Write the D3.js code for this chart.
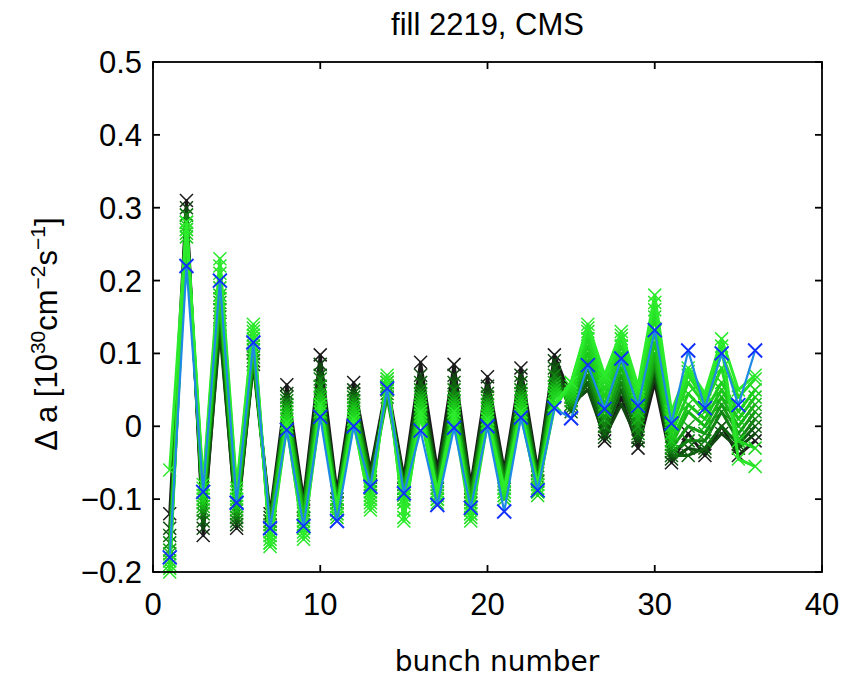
<!DOCTYPE html>
<html>
<head>
<meta charset="utf-8">
<script src="https://cdn.jsdelivr.net/npm/d3@7/dist/d3.min.js"></script>
<style>
  body { margin: 0; background: #fff; }
  svg text { font-family: "Liberation Sans", Arial, sans-serif; }
</style>
</head>
<body>
<svg id="chart" width="843" height="681"></svg>
<script>
// Bunch-by-bunch luminosity offset, fill 2219 (CMS)
const bunches = [1,2,3,4,5,6,7,8,9,10,11,12,13,14,15,16,17,18,19,20,21,22,23,24,25,26,27,28,29,30,31,32,33,34,35,36];
const xTicks = [0, 10, 20, 30, 40];
const yTicks = [-0.2, -0.1, 0, 0.1, 0.2, 0.3, 0.4, 0.5];
const yTickLabels = ["\u22120.2", "\u22120.1", "0", "0.1", "0.2", "0.3", "0.4", "0.5"];

// individual scans, ordered from first (black) to last (bright green)
const scan01 = [-0.12,0.31,-0.15,0.14,-0.14,0.09,-0.12,0.057,-0.10,0.098,-0.09,0.06,-0.06,0.06,-0.07,0.088,-0.06,0.085,-0.08,0.068,-0.06,0.08,-0.06,0.098,0.04,0.06,-0.02,0.04,-0.03,0.06,-0.05,-0.01,-0.04,0.0,-0.04,-0.02];
const scan02 = [-0.14,0.30,-0.14,0.13,-0.135,0.085,-0.13,0.045,-0.11,0.085,-0.10,0.05,-0.065,0.055,-0.075,0.07,-0.07,0.07,-0.085,0.055,-0.065,0.07,-0.065,0.09,0.03,0.05,-0.015,0.03,-0.02,0.07,-0.045,-0.03,-0.035,-0.01,-0.03,-0.01];
const scan03 = [-0.15,0.29,-0.13,0.15,-0.13,0.09,-0.125,0.04,-0.115,0.07,-0.105,0.045,-0.07,0.05,-0.08,0.06,-0.075,0.06,-0.09,0.045,-0.07,0.06,-0.07,0.08,0.02,0.06,-0.01,0.05,-0.015,0.08,-0.04,-0.04,-0.03,0.0,-0.025,0.0];
const scan04 = [-0.16,0.29,-0.12,0.16,-0.125,0.095,-0.13,0.035,-0.11,0.065,-0.10,0.04,-0.075,0.045,-0.085,0.05,-0.08,0.05,-0.095,0.04,-0.075,0.05,-0.075,0.07,0.025,0.07,0.0,0.06,-0.01,0.085,-0.035,-0.02,-0.02,0.02,-0.02,0.01];
const scan05 = [-0.17,0.28,-0.115,0.17,-0.12,0.10,-0.135,0.03,-0.12,0.055,-0.105,0.035,-0.08,0.04,-0.085,0.045,-0.085,0.04,-0.10,0.035,-0.08,0.045,-0.075,0.06,0.03,0.08,0.01,0.07,0.0,0.09,-0.03,0.0,-0.01,0.03,-0.01,0.02];
const scan06 = [-0.175,0.27,-0.11,0.175,-0.115,0.105,-0.14,0.025,-0.125,0.045,-0.11,0.03,-0.085,0.05,-0.09,0.04,-0.09,0.035,-0.105,0.03,-0.085,0.04,-0.08,0.055,0.035,0.09,0.02,0.08,0.01,0.10,-0.025,0.02,0.0,0.04,0.0,0.03];
const scan07 = [-0.18,0.265,-0.105,0.18,-0.11,0.11,-0.145,0.02,-0.13,0.04,-0.115,0.025,-0.09,0.055,-0.095,0.035,-0.095,0.03,-0.11,0.025,-0.09,0.035,-0.085,0.05,0.04,0.10,0.03,0.09,0.02,0.115,-0.02,0.03,0.01,0.05,0.01,0.04];
const scan08 = [-0.185,0.26,-0.10,0.19,-0.105,0.12,-0.15,0.015,-0.135,0.035,-0.12,0.02,-0.095,0.06,-0.10,0.03,-0.10,0.025,-0.115,0.02,-0.095,0.03,-0.09,0.045,0.045,0.11,0.04,0.10,0.03,0.13,-0.01,0.045,0.02,0.06,0.02,0.05];
const scan09 = [-0.19,0.275,-0.095,0.20,-0.10,0.125,-0.155,0.01,-0.14,0.03,-0.125,0.015,-0.10,0.065,-0.105,0.025,-0.105,0.02,-0.12,0.015,-0.10,0.025,-0.095,0.04,0.05,0.12,0.05,0.11,0.04,0.15,0.0,0.06,0.03,0.08,-0.02,-0.03];
const scan10 = [-0.195,0.28,-0.09,0.21,-0.095,0.13,-0.16,0.005,-0.145,0.025,-0.12,0.01,-0.105,0.06,-0.115,0.02,-0.10,0.015,-0.125,0.01,-0.095,0.02,-0.09,0.03,0.055,0.13,0.06,0.12,0.045,0.16,0.01,0.07,0.035,0.10,0.04,0.065];
const scan11 = [-0.20,0.27,-0.085,0.22,-0.09,0.135,-0.165,0.0,-0.15,0.02,-0.115,0.005,-0.11,0.065,-0.125,0.015,-0.095,0.01,-0.13,0.005,-0.09,0.015,-0.085,0.025,0.06,0.135,0.065,0.125,0.05,0.17,0.015,0.075,0.04,0.11,-0.045,-0.055];
const scan12 = [-0.06,0.28,-0.08,0.23,-0.085,0.14,-0.16,0.005,-0.155,0.03,-0.11,0.01,-0.115,0.07,-0.13,0.02,-0.09,0.02,-0.12,0.01,-0.085,0.02,-0.08,0.03,0.06,0.14,0.07,0.13,0.055,0.18,0.02,0.08,0.045,0.12,0.05,0.07];
// average over scans
const meanScan = [-0.18,0.22,-0.09,0.20,-0.105,0.115,-0.14,-0.005,-0.137,0.013,-0.13,0.0,-0.083,0.052,-0.092,-0.006,-0.108,-0.002,-0.112,0.0,-0.117,0.012,-0.088,0.025,0.011,0.084,0.024,0.093,0.028,0.132,0.004,0.104,0.025,0.10,0.029,0.104];

const scans = [scan01, scan02, scan03, scan04, scan05, scan06, scan07, scan08, scan09, scan10, scan11, scan12];

const margin = { left: 153, right: 21, top: 62, bottom: 109 };
const W = 843, H = 681;
const svg = d3.select("#chart");

const x = d3.scaleLinear().domain([0, 40]).range([margin.left, W - margin.right]);
const y = d3.scaleLinear().domain([-0.2, 0.5]).range([H - margin.bottom, margin.top]);

// scan colour runs black -> dark green -> bright green
const shade = d3.piecewise(d3.interpolateRgb, ["#1a1a1a", "#0e5a0e", "#19c419", "#2ceb2c"]);
const line = d3.line().x((d, i) => x(bunches[i])).y(d => y(d));
const crossPath = r => `M${-r},${-r}L${r},${r}M${-r},${r}L${r},${-r}`;

function drawSeries(values, lineColor, markColor, lw, r, mw) {
  const g = svg.append("g");
  g.append("path").datum(values)
    .attr("d", line).attr("fill", "none")
    .attr("stroke", lineColor).attr("stroke-width", lw).attr("stroke-linejoin", "round");
  g.selectAll("path.m").data(values).join("path").attr("class", "m")
    .attr("transform", (d, i) => `translate(${x(bunches[i])},${y(d)})`)
    .attr("d", crossPath(r)).attr("fill", "none")
    .attr("stroke", markColor).attr("stroke-width", mw);
}

scans.forEach((s, k) => {
  const c = shade(Math.pow(k / (scans.length - 1), 0.6));
  drawSeries(s, c, c, 3, 6.5, 1.5);
});
drawSeries(meanScan, "#1f8ae6", "#1030ff", 2.2, 7, 1.9);

// frame and ticks (MATLAB style: inward, on all four sides)
const x0 = x(0), x1 = x(40), y0 = y(-0.2), y1 = y(0.5);
const axisG = svg.append("g").attr("stroke", "#000").attr("stroke-width", 1.8).attr("fill", "none");
axisG.append("rect").attr("x", x0).attr("y", y1).attr("width", x1 - x0).attr("height", y0 - y1);
const tl = 7;
xTicks.forEach(t => {
  axisG.append("line").attr("x1", x(t)).attr("x2", x(t)).attr("y1", y0).attr("y2", y0 - tl);
  axisG.append("line").attr("x1", x(t)).attr("x2", x(t)).attr("y1", y1).attr("y2", y1 + tl);
});
yTicks.forEach(t => {
  axisG.append("line").attr("x1", x0).attr("x2", x0 + tl).attr("y1", y(t)).attr("y2", y(t));
  axisG.append("line").attr("x1", x1).attr("x2", x1 - tl).attr("y1", y(t)).attr("y2", y(t));
});

// tick labels
svg.append("g").selectAll("text").data(xTicks).join("text")
  .attr("x", d => x(d)).attr("y", y0 + 43)
  .attr("text-anchor", "middle").attr("font-size", 31).attr("fill", "#000")
  .text(d => d);
svg.append("g").selectAll("text").data(yTicks).join("text")
  .attr("x", x0 - 11).attr("y", d => y(d) + 11)
  .attr("text-anchor", "end").attr("font-size", 31).attr("fill", "#000")
  .text((d, i) => yTickLabels[i]);

// title
svg.append("text").attr("x", x(20)).attr("y", 35)
  .attr("text-anchor", "middle").attr("font-size", 31).attr("fill", "#000")
  .text("fill 2219, CMS");

// x label
svg.append("text").attr("x", 497).attr("y", 671)
  .attr("text-anchor", "middle").attr("font-size", 28).attr("fill", "#000")
  .style("font-family", "'DejaVu Sans', Verdana, sans-serif")
  .text("bunch number");

// y label
const yl = svg.append("text")
  .attr("transform", "translate(57,334) rotate(-90)")
  .attr("text-anchor", "middle").attr("font-size", 31).attr("fill", "#000");
yl.append("tspan").text("\u0394 a [10");
yl.append("tspan").attr("font-size", 21).attr("dy", -12).text("30");
yl.append("tspan").attr("dy", 12).text("cm");
yl.append("tspan").attr("font-size", 21).attr("dy", -12).text("\u22122");
yl.append("tspan").attr("dy", 12).text("s");
yl.append("tspan").attr("font-size", 21).attr("dy", -12).text("\u22121");
yl.append("tspan").attr("dy", 12).text("]");
</script>
</body>
</html>
